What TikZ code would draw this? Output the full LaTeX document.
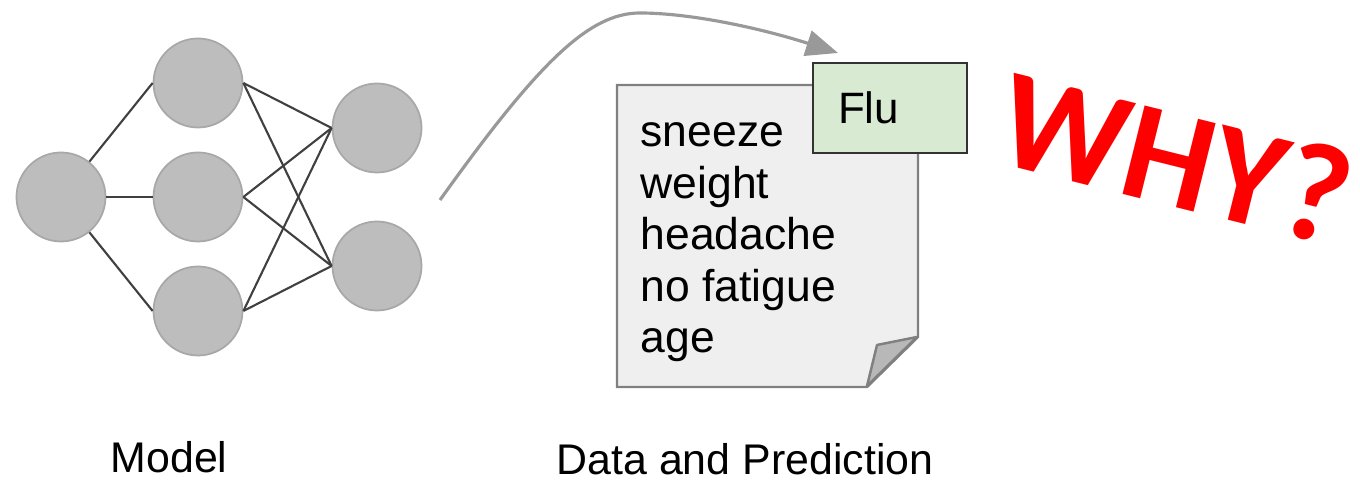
\documentclass[tikz,border=0pt]{standalone}
\usepackage{fontspec}
\setmainfont{Liberation Sans}
\newfontfamily\whyfont{Carlito}[UprightFont=* Bold]
\usetikzlibrary{arrows.meta,positioning}
\definecolor{neuron}{HTML}{BDBDBD}
\definecolor{neuronline}{HTML}{A8A8A8}
\definecolor{paper}{HTML}{EFEFEF}
\definecolor{flugreen}{HTML}{D9EAD3}

\tikzset{
  neuron/.style={circle, fill=neuron, draw=neuronline, line width=0.5pt, minimum size=0.89cm, inner sep=0pt},
  link/.style={draw=black!75, line width=0.6pt},
  flubox/.style={draw=black!80, fill=flugreen, line width=0.8pt, minimum width=1.54cm, minimum height=0.9cm,
    text width=1.04cm, align=left, inner xsep=0.25cm, font=\fontsize{12.5}{14}\selectfont},
  caption/.style={font=\fontsize{12.2}{14}\selectfont, anchor=base}
}

\begin{document}
\begin{tikzpicture}
    \useasboundingbox (0,0) rectangle (13.6,4.8);
    % Network
    \node[neuron] (in) at (0.61,2.83) {};
    \node[neuron] (h1) at (1.98,3.97) {};
    \node[neuron] (h2) at (1.98,2.83) {};
    \node[neuron] (h3) at (1.98,1.69) {};
    \node[neuron] (o1) at (3.77,3.52) {};
    \node[neuron] (o2) at (3.77,2.14) {};
    \foreach \h in {h1,h2,h3} {
        \draw[link] (in) -- (\h.west);
        \foreach \o in {o1,o2}
            \draw[link] (\h.east) -- (\o.west);
    }
    \node[caption] (model) at (1.69,0.07) {Model};

    % Sheet with folded corner
    \draw[draw=black!50, fill=paper, line width=0.7pt]
        (6.17,3.95) -- (9.18,3.95) -- (9.18,1.43) -- (8.67,0.93) -- (6.17,0.93) -- cycle;
    \draw[draw=black!50, fill=black!28, line width=0.7pt, line join=round]
        (9.17,1.43) -- (8.77,1.35) -- (8.67,0.94) -- cycle;
    \node[anchor=base west, align=left, inner sep=0pt, font=\fontsize{12.66}{14.66}\selectfont] (data) at (6.40,1.27)
        {sneeze\\weight\\headache\\no fatigue\\age};
    \node[flubox] (flu) at (8.90,3.72) {Flu};
    \node[caption] (pred) at (7.45,0.05) {Data and Prediction};

    % Arrow from model to prediction
    \coordinate (start) at (4.40,2.80);
    \coordinate (tip) at (8.38,4.27);
    \draw[draw=black!40, line width=0.9pt, -{Triangle[length=0.32cm,width=0.26cm]}]
        (start) .. controls (5.4,4.2) and (5.9,4.67) .. (6.4,4.67)
        .. controls (6.9,4.67) and (7.6,4.52) .. (tip);

    \node[text=red, rotate=-14, font=\whyfont\fontsize{40}{48}\selectfont] (why) at (11.76,3.22) {WHY?};
\end{tikzpicture}
\end{document}
